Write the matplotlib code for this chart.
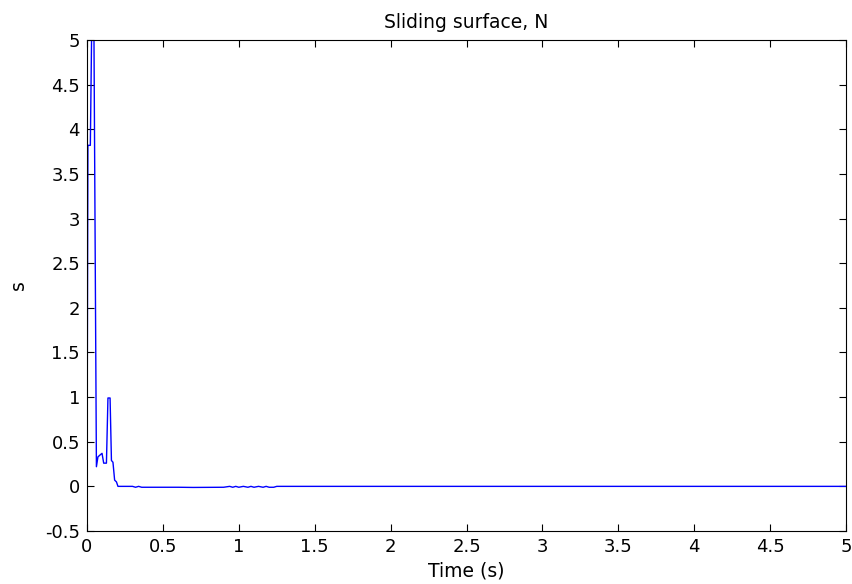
import numpy as np
import matplotlib
matplotlib.use("Agg")
import matplotlib.pyplot as plt

# sliding surface trace
t = [0.0, 0.006, 0.022, 0.030, 0.046, 0.062, 0.072, 0.085, 0.099, 0.110,
     0.128, 0.138, 0.152, 0.161, 0.171, 0.182, 0.194, 0.204, 0.25, 0.30,
     0.32, 0.34, 0.36, 0.60, 0.70, 0.90, 0.94, 0.96, 0.98, 1.00, 1.03, 1.06,
     1.08, 1.10, 1.13, 1.16, 1.18, 1.20, 1.23, 1.25, 1.30, 5.0]
s = [0.0, 3.82, 3.82, 5.0, 5.0, 0.22, 0.33, 0.35, 0.37, 0.26,
     0.26, 0.99, 0.99, 0.29, 0.27, 0.07, 0.05, 0.0, 0.0, 0.0,
     -0.01, 0.0, -0.01, -0.01, -0.012, -0.01, 0.0, -0.01, 0.0, -0.01, 0.0, -0.01,
     0.0, -0.01, 0.0, -0.01, 0.0, -0.01, -0.01, 0.0, 0.0, 0.0]

xticks = np.arange(0, 5.01, 0.5)
yticks = np.arange(-0.5, 5.01, 0.5)

fig = plt.figure(figsize=(8.52, 5.84), dpi=100)
ax = fig.add_axes([87 / 852, 53 / 584, 759 / 852, 491 / 584])
ax.plot(t, s, color='#0000ff', lw=1.0)
ax.set_xlim(0, 5)
ax.set_ylim(-0.5, 5)
ax.set_xticks(xticks)
ax.set_yticks(yticks)
ax.set_xticklabels(['%g' % v for v in xticks])
ax.set_yticklabels(['%g' % v for v in yticks])
ax.tick_params(direction='in', top=True, right=True, length=5, labelsize=13, pad=5)
for sp in ax.spines.values():
    sp.set_linewidth(0.8)
ax.set_title('Sliding surface, N', fontsize=13.5, pad=9)
ax.set_xlabel('Time (s)', fontsize=13.5, labelpad=4)
ax.set_ylabel('s', fontsize=13.5, labelpad=12)
fig.savefig('out.png', dpi=100)
